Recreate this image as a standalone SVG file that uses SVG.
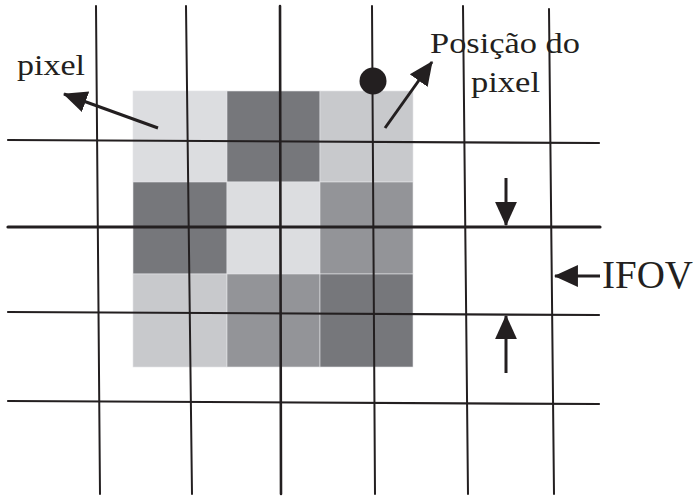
<svg xmlns="http://www.w3.org/2000/svg" width="700" height="496" viewBox="0 0 700 496">
<style>
.lt{fill:#dcdde0}.dk{fill:#76777b}.ml{fill:#c8c9cc}.md{fill:#939498}
.cell{stroke:#e4e4e6;stroke-width:0.6}
.grid line{stroke:#231f20;stroke-linecap:round}
.v{stroke-width:2}
.h{stroke-width:2.2}
.arr{stroke:#231f20;stroke-width:3;fill:none;marker-end:url(#ah)}
.lbl{fill:#231f20}
</style>
<defs>
<marker id="ah" markerUnits="userSpaceOnUse" markerWidth="24" markerHeight="24" viewBox="0 0 22 20" refX="21" refY="10" orient="auto">
<path d="M0,0 L22,10 L0,20 Z" fill="#231f20"/>
</marker>
</defs>
<g id="pixels">
<rect class="lt cell" x="133" y="91" width="94" height="91"/>
<rect class="dk cell" x="227" y="91" width="93" height="91"/>
<rect class="ml cell" x="320" y="91" width="93" height="91"/>
<rect class="dk cell" x="133" y="182" width="94" height="92"/>
<rect class="lt cell" x="227" y="182" width="93" height="92"/>
<rect class="md cell" x="320" y="182" width="93" height="92"/>
<rect class="ml cell" x="133" y="274" width="94" height="93"/>
<rect class="md cell" x="227" y="274" width="93" height="93"/>
<rect class="dk cell" x="320" y="274" width="93" height="93"/>
</g>
<g id="grid" class="grid">
<line class="v" x1="96" y1="6" x2="100" y2="494"/>
<line class="v" x1="186" y1="6" x2="192" y2="494"/>
<line class="v" x1="280" y1="6" x2="281" y2="494" style="stroke-width:2.6"/>
<line class="v" x1="372" y1="6" x2="375" y2="494"/>
<line class="v" x1="463" y1="6" x2="468" y2="494"/>
<line class="v" x1="549" y1="9" x2="554" y2="494"/>
<line class="h" x1="8" y1="140" x2="599" y2="143"/>
<line class="h" x1="8" y1="227" x2="600" y2="227" style="stroke-width:3.2"/>
<line class="h" x1="8" y1="312" x2="599" y2="315"/>
<line class="h" x1="8" y1="401" x2="599" y2="404"/>
</g>
<g id="pixel-position">
<circle cx="373" cy="81" r="13.5" fill="#231f20"/>
</g>
<g id="connectors">
<line class="arr" x1="158" y1="128" x2="64" y2="94"/>
<line class="arr" x1="385" y1="128" x2="432" y2="62"/>
<line class="arr" x1="506" y1="178" x2="506" y2="225"/>
<line class="arr" x1="506" y1="373" x2="506" y2="316"/>
<line class="arr" x1="600" y1="276" x2="555" y2="276"/>
</g>
<g id="labels" font-family="Liberation Serif, Times New Roman, serif">
<text class="lbl" x="17" y="75" font-size="30" textLength="68" lengthAdjust="spacingAndGlyphs">pixel</text>
<text class="lbl" x="430" y="53" font-size="30" textLength="150" lengthAdjust="spacingAndGlyphs">Posição do</text>
<text class="lbl" x="471" y="92" font-size="30" textLength="69" lengthAdjust="spacingAndGlyphs">pixel</text>
<text class="lbl" x="602" y="288" font-size="40" textLength="91" lengthAdjust="spacingAndGlyphs">IFOV</text>
</g>
</svg>
